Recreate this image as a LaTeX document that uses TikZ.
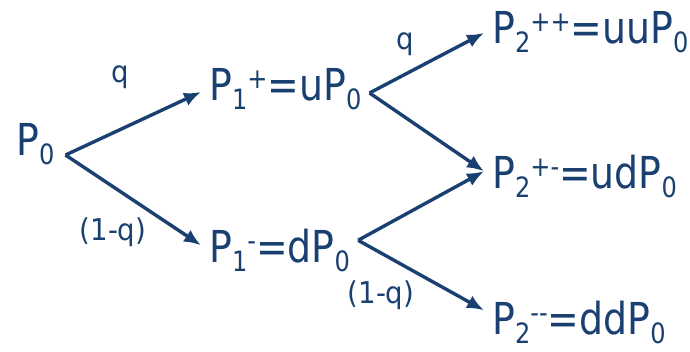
\documentclass[tikz,border=0pt]{standalone}
\usepackage{fontspec}
\usepackage{xcolor}
\usetikzlibrary{arrows.meta}
\newfontfamily\pricefont{DejaVu Sans}[FakeStretch=0.86]
\newfontfamily\probfont{DejaVu Sans}[FakeStretch=0.92]
\definecolor{treeblue}{RGB}{25,64,112}
\newcommand{\sbs}[1]{\raisebox{-9pt}{\fontsize{28}{30}\selectfont #1}}
\newcommand{\sps}[1]{\raisebox{12pt}{\fontsize{28}{30}\selectfont #1}}

\begin{document}
\begin{tikzpicture}[x=1pt,y=-1pt,
    price/.style={text=treeblue, font=\pricefont\fontsize{44}{48}\selectfont,
      inner xsep=8pt, inner ysep=2pt, text depth=0pt, anchor=base west},
    prob/.style={text=treeblue, font=\probfont\fontsize{30}{32}\selectfont, inner sep=0pt},
    branch/.style={draw=treeblue, line width=3.4pt, -{Latex[length=17pt,width=14pt]}}]
      % \draw[help lines, gray!50, very thin] (0,0) grid[step=50] (690,351);
      \useasboundingbox (0,0) rectangle (690,351);

      \node[price] (p0) at (8,155) {P\sbs{0}};
      \node[price] (p1u) at (201,100) {P\sbs{1}\sps{+}=uP\sbs{0}};
      \node[price] (p1d) at (201,262) {P\sbs{1}\sps{-}=dP\sbs{0}};
      \node[price] (p2uu) at (484,43) {P\sbs{2}\sps{++}=uuP\sbs{0}};
      \node[price] (p2ud) at (484,188) {P\sbs{2}\sps{+-}=udP\sbs{0}};
      \node[price] (p2dd) at (484,334) {P\sbs{2}\sps{-{}-}=ddP\sbs{0}};

      \node[prob] (q1) at (120,77) {q};
      \node[prob] (q2) at (405,44) {q};
      \node[prob] (nq1) at (113,232) {(1-q)};
      \node[prob] (nq2) at (381,295) {(1-q)};

      \draw[branch] ([xshift=3pt]p0.base east) -- ([yshift=-8pt]p1u.west);
      \draw[branch] ([xshift=3pt]p0.base east) -- (p1d.west);
      \draw[branch] ([yshift=-9pt]p1u.east) -- ([yshift=-6pt]p2uu.west);
      \draw[branch] ([yshift=-9pt]p1u.east) -- (p2ud.west);
      \draw[branch] ([yshift=5pt]p1d.east) -- (p2ud.west);
      \draw[branch] ([yshift=5pt]p1d.east) -- ([yshift=7pt]p2dd.west);
\end{tikzpicture}
\end{document}
